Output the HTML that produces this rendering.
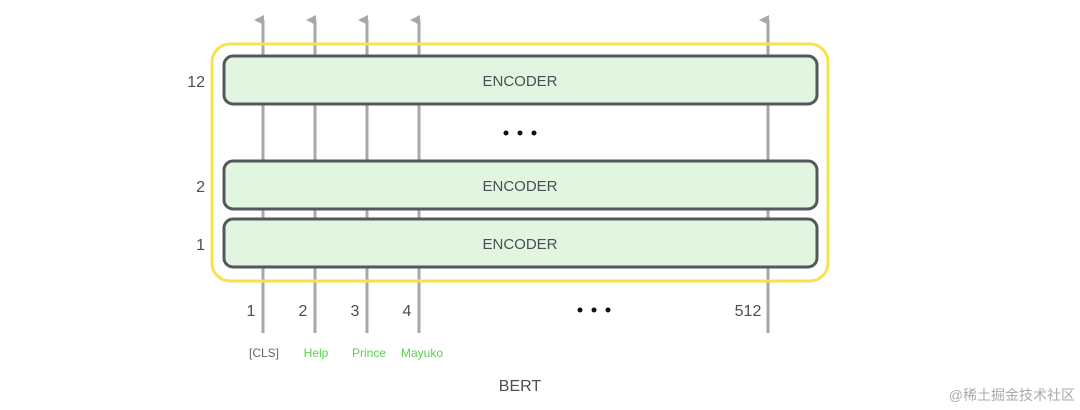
<!DOCTYPE html>
<html><head><meta charset="utf-8"><style>
body{margin:0;background:#fff;width:1080px;height:410px;overflow:hidden}
svg{display:block}
text{font-family:"Liberation Sans",sans-serif}
</style></head><body>
<svg width="1080" height="410" viewBox="0 0 1080 410">
<defs><marker id="a" markerWidth="10" markerHeight="10" refX="5" refY="9" orient="auto" markerUnits="userSpaceOnUse"><path d="M0,10 L5,0 L10,10 Z" fill="#a6a8a9"/></marker></defs>
<g stroke="#a6a8a9" stroke-width="3">
<line x1="263" y1="333" x2="263" y2="20" marker-end="url(#a)"/>
<line x1="315" y1="333" x2="315" y2="20" marker-end="url(#a)"/>
<line x1="367" y1="333" x2="367" y2="20" marker-end="url(#a)"/>
<line x1="419" y1="333" x2="419" y2="20" marker-end="url(#a)"/>
<line x1="768" y1="333" x2="768" y2="20" marker-end="url(#a)"/>
</g>
<rect x="212" y="44" width="616" height="237" rx="18" fill="none" stroke="#f8e24a" stroke-width="3"/>
<g fill="#e1f5e1" stroke="#52585c" stroke-width="3">
<rect x="224" y="56" width="593" height="48" rx="9"/>
<rect x="224" y="161" width="593" height="48" rx="9"/>
<rect x="224" y="219" width="593" height="48" rx="9"/>
</g>
<g font-size="15" fill="#4a4f53" text-anchor="middle">
<text x="520" y="86">ENCODER</text>
<text x="520" y="191">ENCODER</text>
<text x="520" y="249">ENCODER</text>
<text x="520" y="391" font-size="16">BERT</text>
</g>
<g font-size="16" fill="#4a4f53" text-anchor="end">
<text x="205" y="87">12</text>
<text x="205" y="192">2</text>
<text x="205" y="250">1</text>
</g>
<g font-size="16" fill="#4a4f53" text-anchor="middle">
<text x="251" y="316">1</text>
<text x="303" y="316">2</text>
<text x="355" y="316">3</text>
<text x="407" y="316">4</text>
<text x="748" y="316">512</text>
</g>
<g fill="#111">
<circle cx="506" cy="133" r="2.5"/><circle cx="520" cy="133" r="2.5"/><circle cx="534" cy="133" r="2.5"/>
<circle cx="580" cy="310" r="2.5"/><circle cx="594" cy="310" r="2.5"/><circle cx="608" cy="310" r="2.5"/>
</g>
<g font-size="12" text-anchor="middle">
<text x="264" y="357" fill="#666">[CLS]</text>
<text x="316" y="357" fill="#5ccf4f">Help</text>
<text x="369" y="357" fill="#5ccf4f">Prince</text>
<text x="422" y="357" fill="#5ccf4f">Mayuko</text>
</g>
<text x="1075" y="400" font-size="14" fill="#aaa" text-anchor="end" font-family="'Liberation Sans','Noto Sans CJK SC',sans-serif">@稀土掘金技术社区</text>
</svg>
</body></html>
